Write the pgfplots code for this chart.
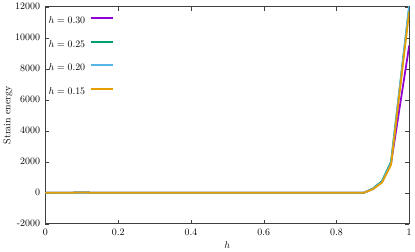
\documentclass[border=0pt]{standalone}
\usepackage{pgfplots}
\pgfplotsset{compat=1.18}
\definecolor{cpurple}{HTML}{9400D3}
\definecolor{cgreen}{HTML}{009E73}
\definecolor{cblue}{HTML}{56B4E9}
\definecolor{corange}{HTML}{E69F00}
\begin{document}
\begin{tikzpicture}
\begin{axis}[
  scale only axis, width=367pt, height=219pt,
  xmin=0, xmax=1, ymin=-2000, ymax=12000,
  scaled y ticks=false, scaled x ticks=false,
  xtick={0,0.2,0.4,0.6,0.8,1}, ytick={-2000,0,...,12000},
  xticklabels={0,0.2,0.4,0.6,0.8,1},
  yticklabels={-2000,0,2000,4000,6000,8000,10000,12000},
  tick align=inside, major tick length=4pt,
  tick style={black!75}, axis line style={black!75, line width=0.8pt},
  xticklabel style={yshift=-2pt},
  yticklabel style={xshift=-2pt},
  xlabel={$h$}, ylabel={Strain energy},
  xlabel style={at={(axis description cs:0.5,0)}, anchor=north, yshift=-14pt},
  ylabel style={at={(axis description cs:-0.1035,0.5)}, anchor=center},
  legend style={at={(axis description cs:0,1)}, anchor=north west, xshift=3pt, yshift=-9pt,
    draw=none, fill=none, inner sep=0pt, row sep=14pt, column sep=5pt,
    nodes={inner sep=0pt, text height=7.5pt, text depth=2.5pt}},
  legend cell align=right,
  legend plot pos=right,
  legend image code/.code={\draw[#1, line width=2pt] (0pt,3pt) -- (22pt,3pt);},
  every axis plot/.append style={line width=1.8pt},
]
\addplot[cpurple] coordinates {(0,0)(0.05,0)(0.1,15)(0.15,0)(0.2,0)(0.3,5)(0.4,0)(0.5,0)(0.6,0)(0.7,0)(0.8,0)(0.875,0)(0.9,250)(0.925,700)(0.95,1900)(1.0,9500)};
\addlegendentry{$h = 0.30$}
\addplot[cgreen] coordinates {(0,0)(0.05,0)(0.1,15)(0.15,0)(0.2,0)(0.3,5)(0.4,0)(0.5,0)(0.6,0)(0.7,0)(0.8,0)(0.875,0)(0.9,270)(0.925,750)(0.95,2000)(1.0,12000)};
\addlegendentry{$h = 0.25$}
\addplot[cblue] coordinates {(0,0)(0.05,0)(0.1,15)(0.15,0)(0.2,0)(0.3,5)(0.4,0)(0.5,0)(0.6,0)(0.7,0)(0.8,0)(0.875,0)(0.9,250)(0.925,700)(0.95,1900)(1.0,12100)};
\addlegendentry{$h = 0.20$}
\addplot[corange] coordinates {(0,0)(0.05,0)(0.1,15)(0.15,0)(0.2,0)(0.3,5)(0.4,0)(0.5,0)(0.6,0)(0.7,0)(0.8,0)(0.875,0)(0.9,230)(0.925,650)(0.95,1800)(1.0,11700)};
\addlegendentry{$h = 0.15$}
\end{axis}
\end{tikzpicture}
\end{document}
